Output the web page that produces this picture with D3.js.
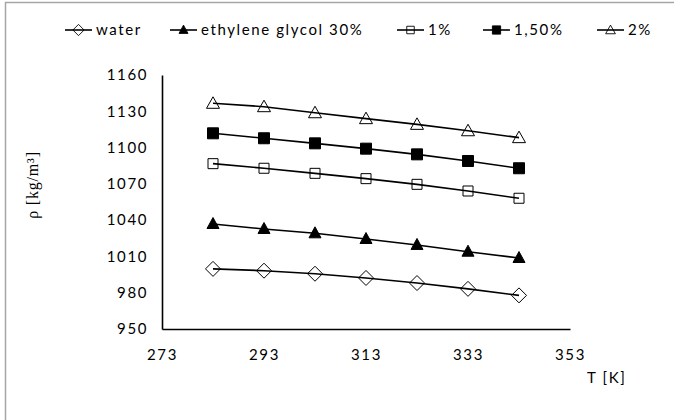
<!DOCTYPE html>
<html>
<head>
  <meta charset="utf-8">
  <script src="https://cdn.jsdelivr.net/npm/d3@7/dist/d3.min.js"></script>
  <style type="text/css">
    body {
      margin: 0;
      background: #fff;
    }
    .tick text, .legend text, .xlabel {
      font-family: Lato, "Open Sans", sans-serif;
      font-size: 15px;
      letter-spacing: 1.6px;
      fill: #000;
    }
    .ylabel {
      font-family: "Liberation Serif", "DejaVu Serif", serif;
      font-size: 16px;
      letter-spacing: 0.8px;
    }
  </style>
</head>
<body>
  <script type="text/javascript">

  // temperatures [K]
  const temps = [283, 293, 303, 313, 323, 333, 343];
  const xTicks = [273, 293, 313, 333, 353];
  const yTicks = [950, 980, 1010, 1040, 1070, 1100, 1130, 1160];

  // density [kg/m3]
  const water = [999.7, 998.2, 995.7, 992.2, 988.0, 983.2, 977.8];
  const glycol30 = [1036.8, 1032.7, 1029.1, 1024.4, 1019.5, 1013.9, 1008.7];
  const nano1 = [1086.7, 1082.9, 1078.7, 1074.3, 1069.6, 1064.1, 1058.1];
  const nano15 = [1111.8, 1107.7, 1103.5, 1099.1, 1094.4, 1088.9, 1082.9];
  const nano2 = [1136.6, 1133.8, 1128.8, 1123.9, 1119.2, 1113.9, 1108.2];

  const seriesNames = ['water', 'ethylene glycol 30%', '1%', '1,50%', '2%'];
  const seriesValues = [water, glycol30, nano1, nano15, nano2];
  const seriesMarkers = ['diamond', 'triangle', 'square', 'filledSquare', 'triangleOpen'];

  const width = 674, height = 420;
  const plot = {left: 162, right: 570, top: 75, bottom: 329};

  const svg = d3.select('body').append('svg')
    .attr('width', width)
    .attr('height', height);

  // outer chart border (only top/left visible)
  svg.append('rect')
    .attr('x', 5.5).attr('y', 2.5)
    .attr('width', 800).attr('height', 600)
    .attr('fill', 'none')
    .attr('stroke', '#a6a6a6')
    .attr('stroke-width', 1.5);

  const x = d3.scaleLinear().domain([273, 353]).range([plot.left, plot.right]);
  const y = d3.scaleLinear().domain([950, 1160]).range([plot.bottom, plot.top]);

  // marker paths, centred on 0,0
  function markerPath(kind) {
    if (kind === 'diamond') return 'M0,-7.5L7.5,0L0,7.5L-7.5,0Z';
    if (kind === 'triangle') return 'M0,-6.5L6,4.5L-6,4.5Z';
    if (kind === 'triangleOpen') return 'M0,-6.5L6.5,5L-6.5,5Z';
    if (kind === 'square') return 'M-5,-5H5V5H-5Z';
    if (kind === 'filledSquare') return 'M-5.5,-5.5H5.5V5.5H-5.5Z';
  }
  function markerFill(kind) {
    return (kind === 'triangle' || kind === 'filledSquare') ? '#000' : 'none';
  }

  // axes
  const xaxis = d3.axisBottom(x).tickValues(xTicks).tickSize(0).tickPadding(20).tickFormat(d3.format('d'));
  const yaxis = d3.axisLeft(y).tickValues(yTicks).tickSize(0).tickPadding(14).tickFormat(d3.format('d'));

  const gx = svg.append('g')
    .attr('transform', `translate(0,${plot.bottom})`)
    .call(xaxis);
  const gy = svg.append('g')
    .attr('transform', `translate(${plot.left},0)`)
    .call(yaxis);

  [gx, gy].forEach(g => {
    g.select('.domain').attr('stroke', '#000').attr('stroke-width', 1.6);
    g.selectAll('.tick text').attr('font-size', null).attr('font-family', null);
  });

  // series
  const line = d3.line()
    .x((d, i) => x(temps[i]))
    .y(d => y(d));

  seriesValues.forEach((vals, s) => {
    svg.append('path')
      .datum(vals)
      .attr('fill', 'none')
      .attr('stroke', '#000')
      .attr('stroke-width', 1.6)
      .attr('d', line);

    svg.selectAll(null)
      .data(vals)
      .enter().append('path')
      .attr('transform', (d, i) => `translate(${x(temps[i])},${y(d)})`)
      .attr('d', markerPath(seriesMarkers[s]))
      .attr('fill', markerFill(seriesMarkers[s]))
      .attr('stroke', '#000')
      .attr('stroke-width', 1);
  });

  // legend
  const legendX = [65, 170, 397, 483, 597];
  const legend = svg.append('g').attr('class', 'legend')
    .attr('transform', 'translate(0,30)');

  seriesNames.forEach((name, s) => {
    const g = legend.append('g').attr('transform', `translate(${legendX[s]},0)`);
    g.append('line')
      .attr('x1', 0).attr('x2', 27)
      .attr('stroke', '#000').attr('stroke-width', 1.6);
    g.append('path')
      .attr('transform', 'translate(13.5,0) scale(0.75)')
      .attr('d', markerPath(seriesMarkers[s]))
      .attr('fill', markerFill(seriesMarkers[s]))
      .attr('stroke', '#000')
      .attr('stroke-width', 1.2);
    g.append('text')
      .attr('x', 31)
      .attr('dy', '0.35em')
      .text(name);
  });

  // axis titles
  svg.append('text')
    .attr('class', 'xlabel')
    .attr('x', 587)
    .attr('y', 383)
    .text('T [K]');

  svg.append('text')
    .attr('class', 'ylabel')
    .attr('transform', 'translate(38,185) rotate(-90)')
    .attr('text-anchor', 'middle')
    .text('ρ [kg/m³]');

  </script>
</body>
</html>
